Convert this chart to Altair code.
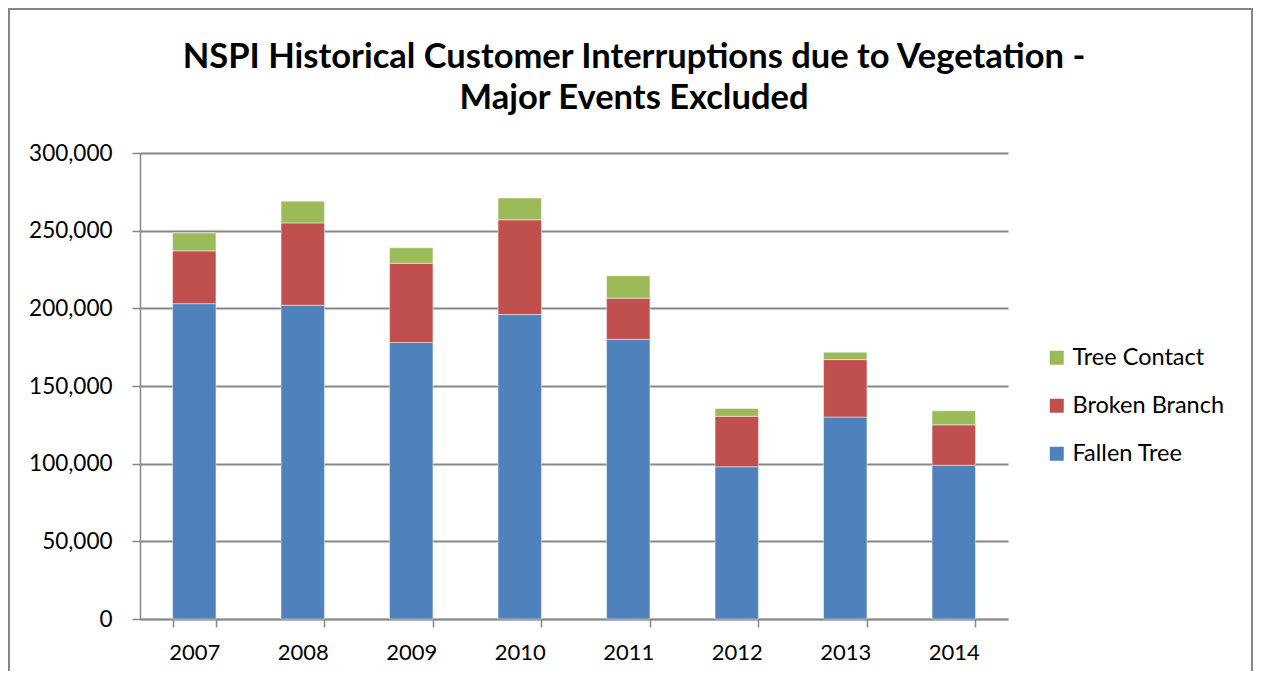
import altair as alt
import pandas as pd

years = ["2007", "2008", "2009", "2010", "2011", "2012", "2013", "2014"]
fallen_tree = [203000, 202000, 178000, 196000, 180000, 98000, 130000, 99000]
broken_branch = [34000, 53000, 51000, 61000, 26500, 32500, 37000, 26000]
tree_contact = [11500, 14000, 10000, 14000, 14500, 5000, 4700, 9000]

series_names = ["Fallen Tree", "Broken Branch", "Tree Contact"]
series_values = [fallen_tree, broken_branch, tree_contact]
legend_order = ["Tree Contact", "Broken Branch", "Fallen Tree"]
colors = ["#9BBB59", "#C0504D", "#4F81BD"]
y_ticks = [0, 50000, 100000, 150000, 200000, 250000, 300000]
title_lines = ["NSPI Historical Customer Interruptions due to Vegetation -",
               "Major Events Excluded"]

rows = []
for order, (name, vals) in enumerate(zip(series_names, series_values)):
    for yr, v in zip(years, vals):
        rows.append({"Year": yr, "Series": name, "Value": v, "ord": order})
df = pd.DataFrame(rows)

FONT = "Lato"
GRAY = "#878787"

bars = alt.Chart(df).mark_bar(stroke="white", strokeWidth=1, strokeOpacity=0.45).encode(
    x=alt.X("Year:N", sort=years,
            scale=alt.Scale(paddingInner=0.6, paddingOuter=0.3),
            axis=alt.Axis(title=None, labelAngle=0, tickBand="extent", tickSize=8,
                          tickColor=GRAY, tickWidth=1.5, domainColor=GRAY, domainWidth=1.5,
                          labelFont=FONT, labelFontSize=22, labelColor="black",
                          labelPadding=15, grid=False)),
    y=alt.Y("Value:Q", stack="zero",
            scale=alt.Scale(domain=[0, 300000], nice=False),
            axis=alt.Axis(title=None, values=y_ticks, format=",d", grid=True,
                          gridColor=GRAY, gridWidth=2, domainColor=GRAY, domainWidth=1.5,
                          tickColor=GRAY, tickWidth=1.5, tickSize=8,
                          labelFont=FONT, labelFontSize=22.5, labelColor="black",
                          labelPadding=20)),
    color=alt.Color("Series:N",
                    scale=alt.Scale(domain=legend_order, range=colors),
                    legend=alt.Legend(title=None, orient="none", legendX=905, legendY=193,
                                      symbolType="square", symbolSize=196,
                                      symbolStrokeWidth=0, labelFont=FONT,
                                      labelFontSize=23.5, labelColor="black",
                                      labelOffset=4, rowPadding=23, padding=0)),
    order=alt.Order("ord:Q", sort="ascending"),
)

title = alt.Chart(pd.DataFrame({"t": [0]})).mark_text(
    text=title_lines, font=FONT, fontSize=34.5, fontWeight="bold", color="black",
    align="center", baseline="top", lineHeight=41,
).encode(x=alt.value(494), y=alt.value(-112))

border = alt.Chart(pd.DataFrame({"t": [0]})).mark_rect(
    fillOpacity=0, stroke="#868686", strokeWidth=2,
).encode(x=alt.value(-131), x2=alt.value(1112), y=alt.value(-144), y2=alt.value(600))

chart = alt.layer(border, bars, title).properties(
    width=868, height=466,
    autosize=alt.AutoSizeParams(type="none"),
    padding={"left": 132, "top": 145, "right": 245, "bottom": 52},
).configure_view(stroke=None)

chart.save("out.html", embed_options={"renderer": "svg", "actions": False})
